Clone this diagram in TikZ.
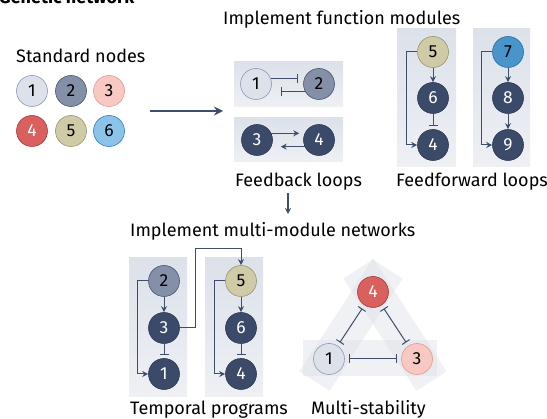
\documentclass[tikz,border=0pt]{standalone}
\usepackage{fontspec}
\setmainfont{Fira Sans}
\usetikzlibrary{arrows.meta, positioning, calc}

\definecolor{edgec}{HTML}{3E4D6A}
\definecolor{panelA}{HTML}{DCE1EA}
\definecolor{panelB}{HTML}{EEF0F4}
\definecolor{bandc}{HTML}{DCE0E8}
\definecolor{oneF}{HTML}{DCE1EA}
\definecolor{oneD}{HTML}{8E9BB5}
\definecolor{twoF}{HTML}{8490A8}
\definecolor{twoD}{HTML}{4A5670}
\definecolor{threeF}{HTML}{F8C8C2}
\definecolor{threeD}{HTML}{E39A92}
\definecolor{fourF}{HTML}{D9605F}
\definecolor{fourD}{HTML}{A83C3C}
\definecolor{fiveF}{HTML}{CFCBA6}
\definecolor{fiveD}{HTML}{9A9470}
\definecolor{sixF}{HTML}{8CC3E8}
\definecolor{sixD}{HTML}{2F7FC0}
\definecolor{sevenF}{HTML}{4A94CC}
\definecolor{sevenD}{HTML}{2A70A8}
\definecolor{darkF}{HTML}{3A4A68}
\definecolor{darkD}{HTML}{2C3A55}

\begin{document}
\begin{tikzpicture}[
    x=1pt, y=-1pt,
    % Node styles
    gnode/.style={circle, draw, line width=0.6pt, minimum size=31pt, inner sep=0pt, font=\fontsize{17.5}{17.5}\selectfont},
    nA/.style={gnode, fill=oneF, draw=oneD},
    nB/.style={gnode, fill=twoF, draw=twoD},
    nC/.style={gnode, fill=threeF, draw=threeD},
    nD/.style={gnode, fill=fourF, draw=fourD, text=white},
    nE/.style={gnode, fill=fiveF, draw=fiveD},
    nF/.style={gnode, fill=sixF, draw=sixD},
    nG/.style={gnode, fill=sevenF, draw=sevenD},
    dark/.style={gnode, fill=darkF, draw=darkD, text=white},
    label/.style={anchor=base west, inner sep=0pt, font=\fontsize{18}{18}\selectfont},
    act/.style={-{Stealth[length=6pt, width=6pt]}, line width=1pt, draw=edgec},
    inh/.style={-{Bar[width=9pt, line width=1pt]}, line width=1pt, draw=edgec},
    mutual/.style={{Bar[width=9pt, line width=1pt]}-{Bar[width=9pt, line width=1pt]}, line width=1pt, draw=edgec, shorten <=4pt, shorten >=4pt},
    panel/.style={top color=panelA, bottom color=panelB, draw=none},
    band/.style={rectangle, fill=bandc, opacity=0.45, minimum width=134pt, minimum height=36pt, inner sep=0pt},
]
\useasboundingbox (0,0) rectangle (547,419);

% ============================================================================
% HEADER AND STANDARD NODES
% ============================================================================
\node[anchor=base west, inner sep=0pt, font=\fontsize{18}{18}\selectfont\bfseries] (title) at (-1,4) {Genetic network};

\node[label] (stdlab) at (16,63) {Standard nodes};
\node[nA] (s1) at (32,91) {1};
\node[nB] (s2) at (71,91) {2};
\node[nC] (s3) at (109,91) {3};
\node[nD] (s4) at (32,131) {4};
\node[nE] (s5) at (71,131) {5};
\node[nF] (s6) at (109,131) {6};

% Main arrow
\coordinate (goL) at (150,111);
\coordinate (goR) at (223,111);
\draw[-{Stealth[length=9pt, width=9pt]}, line width=2.4pt, draw=edgec] (goL) -- (goR);

% ============================================================================
% FUNCTION MODULES
% ============================================================================
\node[label] (modlab) at (223,25) {Implement function modules};

% Feedback loops
\fill[panel] (234,62) rectangle (343,107);
\fill[panel] (234,118) rectangle (343,162);
\node[nA] (fb1) at (256,84) {1};
\node[nB] (fb2) at (319,84) {2};
\draw[inh] (fb1.22) -- ++(27,0);
\draw[inh] (fb2.208) -- ++(-24,0);
\node[dark] (fb3) at (257,140) {3};
\node[dark] (fb4) at (319,140) {4};
\draw[act] (fb3.25) -- ++(28,0);
\draw[act] (fb4.205) -- ++(-24,0);
\node[label] (fblab) at (235,187) {Feedback loops};

% Feedforward loops
\fill[panel] (397,29) rectangle (456,167);
\fill[panel] (473,29) rectangle (530,167);
\node[nE] (ffa5) at (433,52) {5};
\node[dark] (ffa6) at (433,98) {6};
\node[dark] (ffa4) at (433,145) {4};
\draw[act] (ffa5) -- (ffa6);
\draw[inh, shorten >=3pt] (ffa6) -- (ffa4);
\draw[act] (ffa5.west) -- ++(-11,0) |- (ffa4.west);
\node[nG] (ffb7) at (508,52) {7};
\node[dark] (ffb8) at (508,98) {8};
\node[dark] (ffb9) at (508,145) {9};
\draw[act] (ffb7) -- (ffb8);
\draw[act] (ffb8) -- (ffb9);
\draw[act] (ffb7.west) -- ++(-11,0) |- (ffb9.west);
\node[label] (fflab) at (396,187) {Feedforward loops};

% Down arrow
\coordinate (dnT) at (288,193);
\coordinate (dnB) at (288,214);
\draw[act, line width=1.4pt] (dnT) -- (dnB);

% ============================================================================
% MULTI-MODULE NETWORKS
% ============================================================================
\node[label] (netlab) at (130,237) {Implement multi-module networks};

% Temporal programs
\fill[panel] (129,258) rectangle (187,397);
\fill[panel] (205,258) rectangle (263,397);
\node[nB] (tp2) at (164,281) {2};
\node[dark] (tp3) at (164,328) {3};
\node[dark] (tp1) at (164,374) {1};
\draw[act] (tp2) -- (tp3);
\draw[inh, shorten >=3pt] (tp3) -- (tp1);
\draw[act] (tp2.west) -- ++(-11,0) |- (tp1.west);
\node[nE] (tp5) at (241,281) {5};
\node[dark] (tp6) at (241,328) {6};
\node[dark] (tp4) at (241,374) {4};
\draw[act] (tp5) -- (tp6);
\draw[inh, shorten >=3pt] (tp6) -- (tp4);
\draw[act] (tp5.west) -- ++(-11,0) |- (tp4.west);
\coordinate (hop) at (195,249);
\draw[act] (tp3.east) -| (hop) -| (tp5.north);
\node[label] (tplab) at (130,415) {Temporal programs};

% Multi-stability
\node[band, rotate=57] (bandL) at (351,325) {};
\node[band, rotate=-57] (bandR) at (395,325) {};
\node[band] (bandB) at (370,358) {};
\node[nD] (ms4) at (373,292) {4};
\node[nA] (ms1) at (329,359) {1};
\node[nC] (ms3) at (417,359) {3};
\draw[mutual] (ms1) -- (ms3);
\draw[mutual] (ms1) -- (ms4);
\draw[mutual] (ms4) -- (ms3);
\node[label] (mslab) at (311,415) {Multi-stability};

\end{tikzpicture}
\end{document}
